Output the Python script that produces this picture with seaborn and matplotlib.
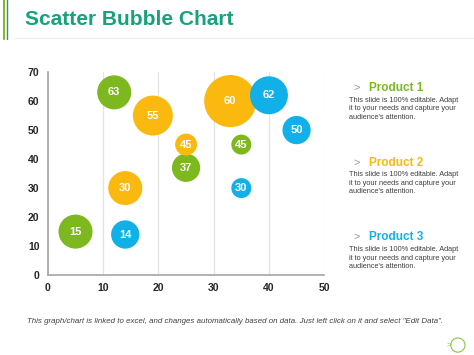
import numpy as np
import matplotlib.pyplot as plt
from matplotlib.patches import Ellipse
import pandas as pd
import seaborn as sns

# bubble data
products = ['Product 1'] * 4 + ['Product 2'] * 4 + ['Product 3'] * 4
x_vals = [12, 5, 25, 35, 19, 33, 25, 14, 40, 45, 35, 14]
y_vals = [63, 15, 37, 45, 55, 60, 45, 30, 62, 50, 30, 14]
bubble = [290, 290, 200, 100, 400, 680, 120, 290, 360, 200, 100, 200]

product_names = ['Product 1', 'Product 2', 'Product 3']
product_colors = ['#7db81f', '#fbb80f', '#12b0e8']
blurb = "This slide is 100% editable. Adapt\nit to your needs and capture your\naudience's attention."

df = pd.DataFrame({'product': products, 'x': x_vals, 'y': y_vals, 'bubble': bubble})

sns.set_style('white')
plt.rcParams['font.family'] = ['Liberation Sans', 'DejaVu Sans']

fig = plt.figure(figsize=(4.74, 3.55), dpi=100)
ax = fig.add_axes([0.101, 0.225, 0.583, 0.572])

sns.scatterplot(data=df, x='x', y='y', hue='product', palette=product_colors,
                size='bubble', sizes=(207, 1410), size_norm=(100, 680),
                linewidth=0, alpha=1, legend=False, ax=ax, zorder=3)

# numbers inside bubbles
for xv, yv in zip(x_vals, y_vals):
    ax.text(xv, yv, str(yv), color='white', fontsize=8, fontweight='bold',
            ha='center', va='center', zorder=4)

ax.set_xlim(0, 50)
ax.set_ylim(0, 70)
ax.set_xticks(range(0, 51, 10))
ax.set_yticks(range(0, 71, 10))
ax.xaxis.grid(True, color='#e3e3e3', linewidth=0.9)
ax.yaxis.grid(False)
ax.set_axisbelow(True)
for side in ['top', 'right']:
    ax.spines[side].set_visible(False)
for side in ['left', 'bottom']:
    ax.spines[side].set_color('#a6a6a6')
    ax.spines[side].set_linewidth(1.2)
ax.tick_params(labelsize=7.5, length=0, pad=6)
for lab in ax.get_xticklabels() + ax.get_yticklabels():
    lab.set_fontweight('bold')
ax.set_xlabel('')
ax.set_ylabel('')

# header
fig.text(0.052, 0.945, 'Scatter Bubble Chart', color='#16a27a', fontsize=15,
         fontweight='bold', va='center')
fig.add_artist(plt.Line2D([0.008, 0.008], [0.89, 1.0], color='#8ab62a', linewidth=1.5))
fig.add_artist(plt.Line2D([0.015, 0.015], [0.89, 1.0], color='#1c9e6e', linewidth=1.0))
fig.add_artist(plt.Line2D([0.03, 1.0], [0.893, 0.893], color='#ececec', linewidth=0.8))

# side notes
for i, (name, col) in enumerate(zip(product_names, product_colors)):
    ytop = 0.752 - i * 0.21
    fig.text(0.752, ytop, '>', color='#999999', fontsize=8, va='center', ha='center')
    fig.text(0.778, ytop, name, color=col, fontsize=8.5, fontweight='bold', va='center')
    fig.text(0.736, ytop - 0.025, blurb, color='#404040', fontsize=5.3, va='top',
             linespacing=1.3)

# footer
fig.text(0.495, 0.093, 'This graph/chart is linked to excel, and changes automatically based on data. '
         'Just left click on it and select "Edit Data".', color='#404040', fontsize=5.7,
         style='italic', ha='center', va='center')
fig.add_artist(Ellipse((0.966, 0.028), 0.03, 0.04, transform=fig.transFigure, fill=False,
                       edgecolor='#8cc63f', linewidth=0.8))
fig.text(0.947, 0.028, '>', color='#8cc63f', fontsize=6, va='center', ha='center')

fig.savefig('out.png', dpi=100)
